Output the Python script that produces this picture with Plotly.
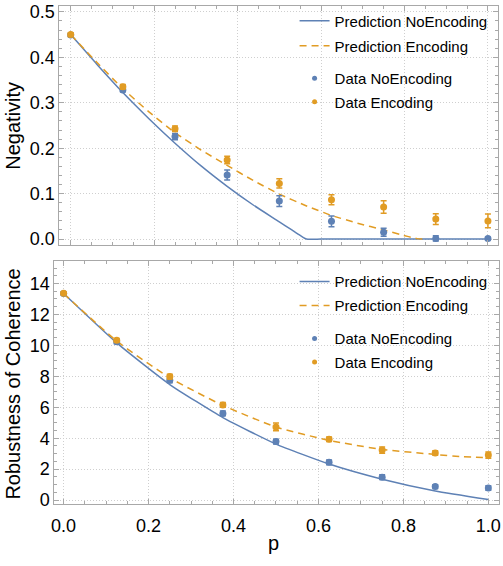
import plotly.graph_objects as go

# ---------------- data ----------------
p = [0, 0.125, 0.25, 0.375, 0.5, 0.625, 0.75, 0.875, 1.0]

neg_data_noenc = [0.449, 0.328, 0.2255, 0.141, 0.0836, 0.039, 0.015, 0.0015, 0.001]
neg_err_noenc = [0.003, 0.004, 0.007, 0.011, 0.012, 0.012, 0.009, 0.006, 0.003]
neg_data_enc = [0.450, 0.335, 0.243, 0.174, 0.1225, 0.0865, 0.0706, 0.044, 0.040]
neg_err_enc = [0.004, 0.005, 0.006, 0.008, 0.010, 0.011, 0.014, 0.012, 0.015]

rc_data_noenc = [13.35, 10.23, 7.74, 5.60, 3.78, 2.44, 1.48, 0.87, 0.78]
rc_err_noenc = [0.10, 0.12, 0.15, 0.15, 0.15, 0.15, 0.15, 0.12, 0.15]
rc_data_enc = [13.37, 10.33, 7.98, 6.15, 4.73, 3.93, 3.23, 3.04, 2.91]
rc_err_enc = [0.10, 0.12, 0.15, 0.15, 0.25, 0.15, 0.20, 0.15, 0.20]

neg_pred_p_noenc = [0, 0.0625, 0.125, 0.1875, 0.25, 0.3125, 0.375, 0.4375, 0.5,
                    0.53, 0.55, 0.565, 0.6, 0.7, 0.8, 0.9, 1.0]
neg_pred_noenc = [0.450, 0.385, 0.3225, 0.265, 0.211, 0.161, 0.116, 0.075, 0.038,
                  0.020, 0.008, 0.0, 0.0, 0.0, 0.0, 0.0, 0.0]
neg_pred_p_enc = [0, 0.0625, 0.125, 0.1875, 0.25, 0.3125, 0.375, 0.4375, 0.5,
                  0.5625, 0.625, 0.6875, 0.75, 0.79, 0.83, 0.845]
neg_pred_enc = [0.450, 0.389, 0.331, 0.280, 0.234, 0.196, 0.162, 0.129, 0.099,
                0.074, 0.052, 0.035, 0.020, 0.010, 0.001, 0.0]

rc_pred_p_noenc = [0, 0.125, 0.25, 0.375, 0.5, 0.625, 0.75, 0.875, 1.0]
rc_pred_noenc = [13.35, 10.16, 7.47, 5.33, 3.62, 2.33, 1.35, 0.59, 0.04]
rc_pred_p_enc = [0, 0.125, 0.25, 0.375, 0.5, 0.625, 0.75, 0.875, 0.9375, 1.0]
rc_pred_enc = [13.35, 10.28, 7.90, 6.12, 4.72, 3.86, 3.27, 2.95, 2.80, 2.75]

x_ticks = [0.0, 0.2, 0.4, 0.6, 0.8, 1.0]

# ---------------- style ----------------
BLUE = "#5E81B5"
ORANGE = "#E19C24"
FRAME = "#a8a8a8"
GRID = "#cfcfcf"
FONT = "Liberation Sans, Arial, sans-serif"
W, H = 503, 566

def px(x):
    return x / W

def py(y):
    return 1 - y / H

fig = go.Figure()

def pred(x, y, color, dash, name, xa, ya, legend, group):
    fig.add_trace(go.Scatter(
        x=x, y=y, mode="lines", name=name,
        line=dict(color=color, width=1.5, dash=dash, shape="spline", smoothing=0.5),
        xaxis=xa, yaxis=ya, legend=legend, legendgroup=group))

def data(x, y, err, color, name, xa, ya, legend, group):
    fig.add_trace(go.Scatter(
        x=x, y=y, mode="markers", name=name, showlegend=False,
        marker=dict(color=color, size=7),
        error_y=dict(type="data", array=err, color=color, thickness=1.5, width=3),
        xaxis=xa, yaxis=ya))
    # legend entry (smaller dot as in reference)
    fig.add_trace(go.Scatter(
        x=[None], y=[None], mode="markers", name=name,
        marker=dict(color=color, size=5),
        xaxis=xa, yaxis=ya, legend=legend, legendgroup=group))

# top panel
pred(neg_pred_p_noenc, neg_pred_noenc, BLUE, "solid", "Prediction NoEncoding", "x", "y", "legend", "a1")
pred(neg_pred_p_enc, neg_pred_enc, ORANGE, "7px,5px", "Prediction Encoding", "x", "y", "legend", "a2")
data(p, neg_data_noenc, neg_err_noenc, BLUE, "Data NoEncoding", "x", "y", "legend2", "b1")
data(p, neg_data_enc, neg_err_enc, ORANGE, "Data Encoding", "x", "y", "legend2", "b2")

# bottom panel
pred(rc_pred_p_noenc, rc_pred_noenc, BLUE, "solid", "Prediction NoEncoding", "x2", "y2", "legend3", "c1")
pred(rc_pred_p_enc, rc_pred_enc, ORANGE, "7px,5px", "Prediction Encoding", "x2", "y2", "legend3", "c2")
data(p, rc_data_noenc, rc_err_noenc, BLUE, "Data NoEncoding", "x2", "y2", "legend4", "d1")
data(p, rc_data_enc, rc_err_enc, ORANGE, "Data Encoding", "x2", "y2", "legend4", "d2")

axis_common = dict(
    ticks="inside", ticklen=5, tickcolor=FRAME, tickwidth=1,
    showline=True, linecolor=FRAME, linewidth=1, mirror="ticks",
    showgrid=True, gridcolor=GRID, griddash="1px,2px", gridwidth=1,
    zeroline=False, tickfont=dict(family=FONT, size=18, color="black"),
    ticklabeloverflow="allow",
)

fig.update_layout(
    width=W, height=H, autosize=False,
    margin=dict(l=0, r=0, t=0, b=0),
    paper_bgcolor="white", plot_bgcolor="white",
    font=dict(family=FONT, color="black"),
    xaxis=dict(axis_common, domain=[px(57), px(499.5)], range=[-0.027, 1.023],
               anchor="y", tickvals=x_ticks, showticklabels=False,
               minor=dict(dtick=0.05, tick0=0, ticks="inside", ticklen=3, tickcolor=FRAME, showgrid=False)),
    yaxis=dict(axis_common, domain=[py(245), py(2)], range=[-0.0123, 0.513],
               anchor="x", tick0=0, dtick=0.1, tickformat=".1f",
               minor=dict(dtick=0.02, tick0=0, ticks="inside", ticklen=3, tickcolor=FRAME, showgrid=False)),
    xaxis2=dict(axis_common, domain=[px(52), px(500.5)], range=[-0.0215, 1.024],
                anchor="y2", tickvals=x_ticks, tickformat=".1f", ticklabelstandoff=5,
                minor=dict(dtick=0.05, tick0=0, ticks="inside", ticklen=3, tickcolor=FRAME, showgrid=False)),
    yaxis2=dict(axis_common, domain=[py(509), py(262)], range=[-0.254, 15.43],
                anchor="x2", tick0=0, dtick=2,
                minor=dict(dtick=0.5, tick0=0, ticks="inside", ticklen=3, tickcolor=FRAME, showgrid=False)),
)

leg_common = dict(xanchor="left", yanchor="top", bgcolor="rgba(0,0,0,0)", borderwidth=0,
                  font=dict(family=FONT, size=15, color="black"), traceorder="grouped")
fig.update_layout(
    legend=dict(leg_common, x=px(294.5), y=py(0.5), tracegroupgap=2.5),
    legend2=dict(leg_common, x=px(294.5), y=py(59), tracegroupgap=1),
    legend3=dict(leg_common, x=px(294.5), y=py(266), tracegroupgap=1.5),
    legend4=dict(leg_common, x=px(294.5), y=py(324), tracegroupgap=1),
)

fig.add_annotation(text="Negativity", x=px(10), y=py(124), xref="paper", yref="paper",
                   textangle=-90, showarrow=False, xanchor="center", yanchor="middle",
                   font=dict(family=FONT, size=20, color="black"))
fig.add_annotation(text="Robustness of Coherence", x=px(10), y=py(386.5), xref="paper", yref="paper",
                   textangle=-90, showarrow=False, xanchor="center", yanchor="middle",
                   font=dict(family=FONT, size=20, color="black"))
fig.add_annotation(text="p", x=px(273), y=py(549), xref="paper", yref="paper",
                   showarrow=False, xanchor="center", yanchor="middle",
                   font=dict(family=FONT, size=20, color="black"))

fig.write_html("out.html")
